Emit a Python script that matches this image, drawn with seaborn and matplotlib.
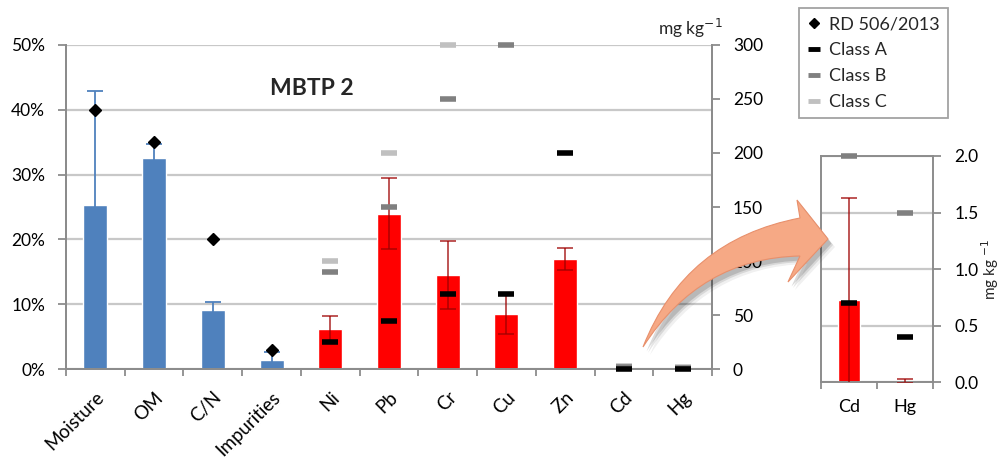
import numpy as np
import pandas as pd
import matplotlib
matplotlib.use("Agg")
import matplotlib.pyplot as plt
import seaborn as sns
from matplotlib.lines import Line2D
from matplotlib.path import Path
from matplotlib.patches import PathPatch
from matplotlib.transforms import Affine2D, ScaledTranslation

# ---- data ----
categories = ["Moisture", "OM", "C/N", "Impurities", "Ni", "Pb", "Cr", "Cu", "Zn", "Cd", "Hg"]

pct_categories = ["Moisture", "OM", "C/N", "Impurities"]
pct_mean = [25.3, 32.6, 9.2, 1.5]          # %
pct_err = [17.5, 2.1, 1.2, 1.2]
pct_rd_limit = [40, 35, 20, 3]              # RD 506/2013 limits, %

metal_categories = ["Ni", "Pb", "Cr", "Cu", "Zn", "Cd", "Hg"]
metal_mean = [37.2, 143.8, 86.9, 51.1, 102.2, 0.73, 0.01]   # mg kg-1
metal_err = [12.3, 33.0, 31.6, 18.6, 10.0, 0.90, 0.02]
class_a = [25, 45, 70, 70, 200, 0.7, 0.4]
class_b = [90, 150, 250, 300, 500, 2.0, 1.5]
class_c = [100, 200, 300, 400, 1000, 3.0, 2.5]

zoom_categories = ["Cd", "Hg"]

# ---- style ----
sns.set_theme(style="white")
plt.rcParams["font.family"] = ["Lato", "DejaVu Sans"]

BLUE = "#4F81BD"
RED = "#FF0000"
ERR_RED = (0.62, 0.0, 0.0, 0.72)
SPINE = "#8C8C8C"
GRID = "#C8C8C8"
CLASS_COLORS = {"Class A": "#000000", "Class B": "#808080", "Class C": "#C0C0C0"}

W, H = 1005, 461
fig = plt.figure(figsize=(W / 100, H / 100), dpi=100)


def px_rect(x0, x1, y_top, y_bot):
    return [x0 / W, 1 - y_bot / H, (x1 - x0) / W, (y_bot - y_top) / H]


ax = fig.add_axes(px_rect(66, 712, 44.7, 369.3))
ax2 = ax.twinx()

pct_df = pd.DataFrame({"cat": pct_categories, "val": pct_mean})
metal_df = pd.DataFrame({"cat": metal_categories, "val": metal_mean})

sns.barplot(data=pct_df, x="cat", y="val", order=categories, color=BLUE,
            saturation=1, width=0.41, errorbar=None, ax=ax)
sns.barplot(data=metal_df, x="cat", y="val", order=categories, color=RED,
            saturation=1, width=0.41, errorbar=None, ax=ax2)

pos = {c: i for i, c in enumerate(categories)}
px = [pos[c] for c in pct_categories]
mx = [pos[c] for c in metal_categories]

ax.errorbar(px, pct_mean, yerr=pct_err, fmt="none", ecolor=BLUE, elinewidth=1.3,
            capsize=6, capthick=1.3, zorder=3)
ax.plot(px, pct_rd_limit, linestyle="none", marker="D", markersize=6,
        color="black", zorder=5, clip_on=False)

ax2.errorbar(mx, metal_mean, yerr=metal_err, fmt="none", ecolor=ERR_RED,
             elinewidth=1.3, capsize=6, capthick=1.3, zorder=3)


def draw_classes(axis, xs, ymax):
    for name, vals in (("Class C", class_c), ("Class B", class_b), ("Class A", class_a)):
        pts = [(x, v) for x, v in zip(xs, vals) if v <= ymax]
        if not pts:
            continue
        xx, yy = zip(*pts)
        axis.plot(xx, yy, linestyle="none", marker="_", markersize=12,
                  markeredgewidth=4, color=CLASS_COLORS[name], zorder=6, clip_on=False)


draw_classes(ax2, mx, 300)

# axes formatting (main panel)
ax.set_xlim(-0.5, len(categories) - 0.5)
ax.set_ylim(0, 50)
ax2.set_ylim(0, 300)
ax.set_yticks(range(0, 51, 10))
ax.set_yticklabels([f"{v}%" for v in range(0, 51, 10)])
ax2.set_yticks(range(0, 301, 50))
ax2.set_yticklabels([str(v) for v in range(0, 301, 50)])
ax.set_xticks(range(len(categories)))
ax.set_xticklabels(categories, rotation=45, ha="right", va="top", rotation_mode="anchor")
shift_lbl = ScaledTranslation(7 / 100, 0, fig.dpi_scale_trans)
for lbl in ax.get_xticklabels():
    lbl.set_transform(lbl.get_transform() + shift_lbl)
ax.set_xticks(np.arange(-0.5, len(categories), 1), minor=True)
ax.tick_params(axis="x", which="major", length=0, pad=14, labelsize=13.5, labelcolor="black")
ax.tick_params(axis="x", which="minor", length=5, width=1.3, color=SPINE, direction="out", bottom=True)
ax.tick_params(axis="y", length=6, width=1.3, color=SPINE, direction="out", left=True,
               pad=9, labelsize=12.5, labelcolor="black")
ax2.tick_params(axis="y", length=6, width=1.3, color=SPINE, direction="out", right=True,
                pad=9, labelsize=12.5, labelcolor="black")
ax.set_xlabel("")
ax.set_ylabel("")
ax2.set_ylabel("")
ax.yaxis.grid(True, color=GRID, linewidth=1.6)
ax.set_axisbelow(True)
for a in (ax, ax2):
    a.spines["top"].set_visible(False)
    for s in ("left", "right", "bottom"):
        a.spines[s].set_color(SPINE)
        a.spines[s].set_linewidth(1.4)

ax.text(0.381, 0.864, "MBTP 2", transform=ax.transAxes, ha="center", va="center",
        fontsize=16.5, fontweight="bold")
ax2.text(1.016, 1.015, "mg kg$^{-1}$", transform=ax2.transAxes, ha="right", va="bottom",
         fontsize=12.5)

# ---- zoomed panel for Cd and Hg ----
axz = fig.add_axes(px_rect(821.3, 933.3, 156, 382.3))
zoom_df = metal_df[metal_df["cat"].isin(zoom_categories)]
sns.barplot(data=zoom_df, x="cat", y="val", order=zoom_categories, color=RED,
            saturation=1, width=0.4, errorbar=None, ax=axz)
zi = [metal_categories.index(c) for c in zoom_categories]
zx = list(range(len(zoom_categories)))
axz.errorbar(zx, [metal_mean[i] for i in zi], yerr=[metal_err[i] for i in zi], fmt="none",
             ecolor=ERR_RED, elinewidth=1.3, capsize=6, capthick=1.3, zorder=3)
for name, vals in (("Class C", class_c), ("Class B", class_b), ("Class A", class_a)):
    pts = [(x, vals[i]) for x, i in zip(zx, zi) if vals[i] <= 2.0]
    if pts:
        xx, yy = zip(*pts)
        axz.plot(xx, yy, linestyle="none", marker="_", markersize=12, markeredgewidth=4,
                 color=CLASS_COLORS[name], zorder=6, clip_on=False)
axz.set_xlim(-0.5, 1.5)
axz.set_ylim(0, 2.0)
axz.set_yticks(np.arange(0, 2.01, 0.5))
axz.set_yticklabels([f"{v:.1f}" for v in np.arange(0, 2.01, 0.5)])
axz.yaxis.tick_right()
axz.yaxis.set_label_position("right")
axz.set_ylabel("mg kg $^{-1}$", fontsize=11, labelpad=1)
axz.set_xlabel("")
axz.set_xticks(zx)
axz.set_xticklabels(zoom_categories)
axz.set_xticks([-0.5, 0.5, 1.5], minor=True)
axz.tick_params(axis="x", which="major", length=0, pad=12, labelsize=13, labelcolor="black")
axz.tick_params(axis="x", which="minor", length=5, width=1.3, color=SPINE, direction="out", bottom=True)
axz.tick_params(axis="y", length=6, width=1.3, color=SPINE, direction="out", right=True,
                left=False, pad=9, labelsize=12.5, labelcolor="black")
axz.yaxis.grid(True, color=GRID, linewidth=1.6)
axz.set_axisbelow(True)
for s in ("left", "right", "bottom", "top"):
    axz.spines[s].set_color(SPINE)
    axz.spines[s].set_linewidth(1.4)

# ---- legend ----
handles = [
    Line2D([], [], linestyle="none", marker="D", markersize=5, color="black", label="RD 506/2013"),
    Line2D([], [], linestyle="none", marker="_", markersize=9, markeredgewidth=3.5,
           color=CLASS_COLORS["Class A"], label="Class A"),
    Line2D([], [], linestyle="none", marker="_", markersize=9, markeredgewidth=3.5,
           color=CLASS_COLORS["Class B"], label="Class B"),
    Line2D([], [], linestyle="none", marker="_", markersize=9, markeredgewidth=3.5,
           color=CLASS_COLORS["Class C"], label="Class C"),
]
leg = fig.legend(handles=handles, loc="upper left", bbox_to_anchor=(799 / W, 1 - 8 / H),
                 frameon=True, fancybox=False, edgecolor=SPINE, fontsize=13,
                 handlelength=0.8, handletextpad=0.4, labelspacing=0.55,
                 borderpad=0.45, borderaxespad=0)
leg.get_frame().set_linewidth(1.3)

# ---- curved pointer from the main panel to the zoomed panel ----
def fig_pt(x, y):
    return (x / W, 1 - y / H)


arrow_px = [(643, 347), (685, 240), (800, 218), (797, 200), (828, 239),
            (788, 282), (800, 256), (700, 258), (643, 347), (643, 347)]
codes = [Path.MOVETO, Path.CURVE3, Path.CURVE3, Path.LINETO, Path.LINETO,
         Path.LINETO, Path.LINETO, Path.CURVE3, Path.CURVE3, Path.CLOSEPOLY]
arrow_path = Path([fig_pt(*p) for p in arrow_px], codes)

for dx, dy, a in [(7, 8, 0.06), (5, 6, 0.10), (3.5, 4.5, 0.14)]:
    shift = Affine2D().translate(dx / W, -dy / H)
    fig.patches.append(PathPatch(arrow_path, transform=shift + fig.transFigure,
                                 facecolor="black", edgecolor="none", alpha=a, zorder=8))
fig.patches.append(PathPatch(arrow_path, transform=fig.transFigure, facecolor="#F6A985",
                             edgecolor="#E8906C", linewidth=0.8, zorder=9))

fig.savefig("out.png", dpi=100)
